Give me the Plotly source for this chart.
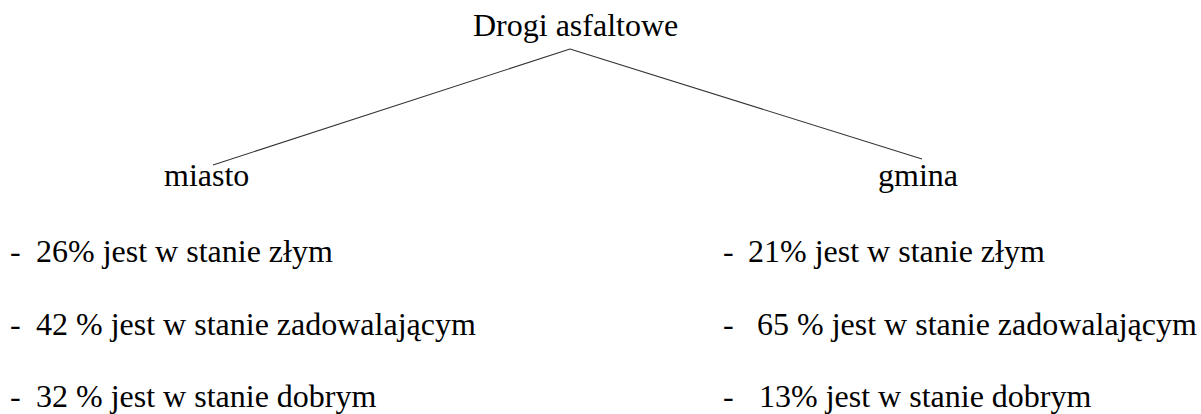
import plotly.graph_objects as go

# ---- data ----
root_label = "Drogi asfaltowe"
branches = ["miasto", "gmina"]
conditions = ["złym", "zadowalającym", "dobrym"]
miasto_pct = ["26%", "42 %", "32 %"]
gmina_pct = ["21%", "65 %", "13%"]

# ---- layout positions (pixel space of the page) ----
W, H = 1201, 414
FONT = dict(family="Liberation Serif, Times New Roman, serif", size=32, color="#000000")
root_pos = (575, 25)
apex = (570, 49)
branch_text_pos = [(206, 175), (918, 175)]
branch_line_end = [(213, 165), (922, 159)]
row_y = [251, 324, 396]
col_dash_x = [8, 721]
col_text_x = [34, 746]
col_text_extra = [[0, 0, 0], [0, 9, 11]]

fig = go.Figure()

for end in branch_line_end:
    fig.add_trace(go.Scatter(
        x=[apex[0], end[0]], y=[apex[1], end[1]], mode="lines",
        line=dict(color="#333333", width=1.1), hoverinfo="skip", showlegend=False))

ann = []
ann.append(dict(x=root_pos[0], y=root_pos[1], text=root_label, xanchor="center",
                yanchor="middle", showarrow=False, font=FONT))
for name, (bx, by) in zip(branches, branch_text_pos):
    ann.append(dict(x=bx, y=by, text=name, xanchor="center", yanchor="middle",
                    showarrow=False, font=FONT))

for ci, pcts in enumerate([miasto_pct, gmina_pct]):
    for ri, (p, cond) in enumerate(zip(pcts, conditions)):
        ann.append(dict(x=col_dash_x[ci], y=row_y[ri], text="-", xanchor="left",
                        yanchor="middle", showarrow=False, font=FONT))
        ann.append(dict(x=col_text_x[ci] + col_text_extra[ci][ri], y=row_y[ri],
                        text=f"{p} jest w stanie {cond}", xanchor="left",
                        yanchor="middle", showarrow=False, font=FONT))

fig.update_layout(
    width=W, height=H, margin=dict(l=0, r=0, t=0, b=0),
    paper_bgcolor="white", plot_bgcolor="white",
    font=dict(family="Liberation Serif, Times New Roman, serif"),
    xaxis=dict(range=[0, W], visible=False, fixedrange=True),
    yaxis=dict(range=[H, 0], visible=False, fixedrange=True),
    annotations=ann, showlegend=False,
)
fig.write_html("out.html", config={"displayModeBar": False},
               post_script="document.body.style.margin='0';document.body.style.overflow='hidden';")
